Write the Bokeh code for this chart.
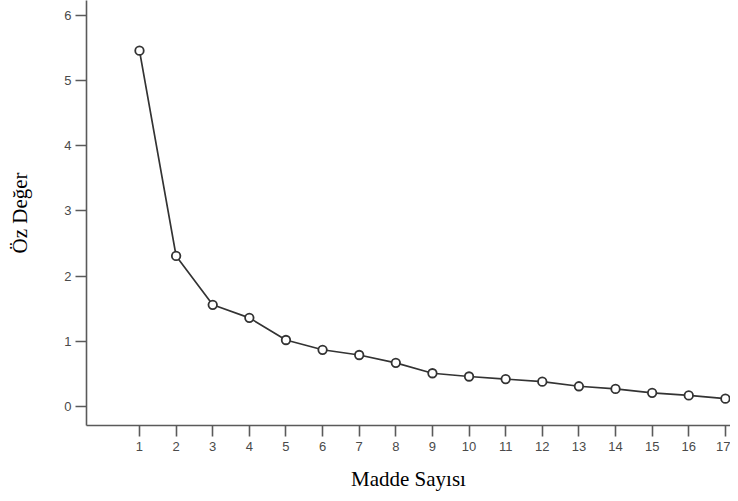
from bokeh.plotting import figure
from bokeh.models import Range1d, FixedTicker
from bokeh.embed import file_html
from bokeh.resources import INLINE

items = list(range(1, 18))
eigenvalues = [5.46, 2.31, 1.56, 1.36, 1.02, 0.87, 0.79, 0.67, 0.51, 0.46,
               0.42, 0.38, 0.31, 0.27, 0.21, 0.17, 0.12]
y_ticks = [0, 1, 2, 3, 4, 5, 6]
x_label = "Madde Sayısı"
y_label = "Öz Değer"

p = figure(width=730, height=493, output_backend="svg", toolbar_location=None,
           x_range=Range1d(-0.447, 17.14), y_range=Range1d(-0.292, 6.23),
           min_border_left=86, min_border_right=0, min_border_top=0, min_border_bottom=68)
p.outline_line_color = None
p.xgrid.visible = False
p.ygrid.visible = False
p.background_fill_color = "white"
p.border_fill_color = "white"

p.line(items, eigenvalues, line_color="#333333", line_width=1.7)
p.scatter(items, eigenvalues, size=8.5, marker="circle", fill_color="white",
          line_color="#333333", line_width=1.8)

for ax in (p.xaxis[0], p.yaxis[0]):
    ax.axis_line_color = "#5a5a5a"
    ax.axis_line_width = 1.6
    ax.major_tick_line_color = "#5a5a5a"
    ax.major_tick_line_width = 1.6
    ax.major_tick_out = 11
    ax.major_tick_in = 0
    ax.minor_tick_line_color = None
    ax.major_label_text_font = "Liberation Sans"
    ax.major_label_text_font_size = "13px"
    ax.major_label_text_color = "#4a4a4a"
    ax.axis_label_text_font = "Liberation Serif"
    ax.axis_label_text_font_style = "normal"
    ax.axis_label_text_font_size = "21px"
    ax.axis_label_text_color = "#000000"

p.xaxis[0].ticker = FixedTicker(ticks=items)
p.yaxis[0].ticker = FixedTicker(ticks=y_ticks)
p.xaxis[0].axis_label = x_label
p.yaxis[0].axis_label = y_label
p.xaxis[0].major_label_standoff = 5
p.yaxis[0].major_label_standoff = 4
p.xaxis[0].axis_label_standoff = 13
p.yaxis[0].axis_label_standoff = 29

open("out.html", "w").write(file_html(p, INLINE))
